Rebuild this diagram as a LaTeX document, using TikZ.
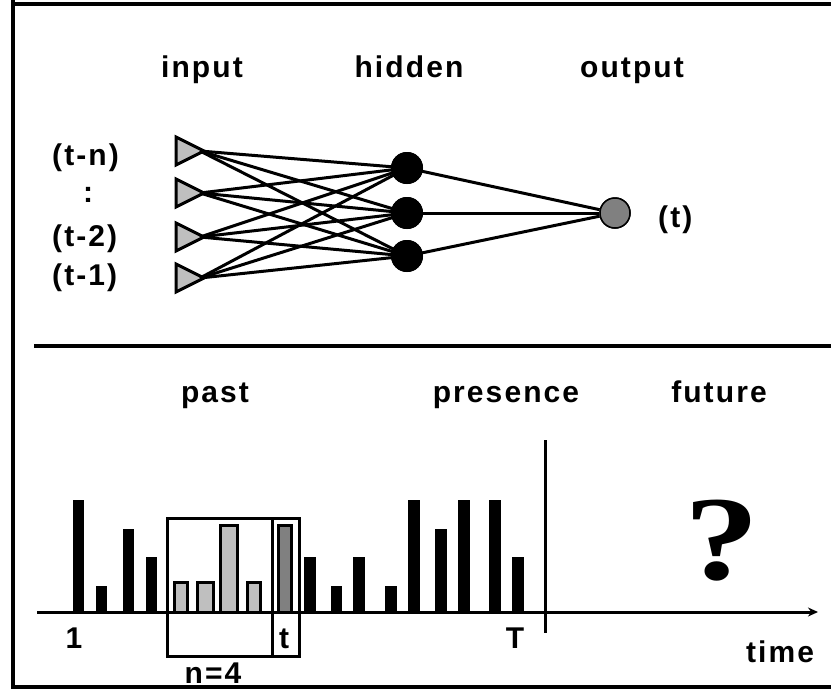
\documentclass[tikz,border=0pt]{standalone}
\usepackage{fontspec}
\setmainfont{Liberation Sans}
\newfontfamily\lblfont[LetterSpace=7]{Liberation Sans Bold}
\newfontfamily\qfont{Liberation Serif Bold}
\usetikzlibrary{arrows.meta}
\begin{document}
\begin{tikzpicture}[x=1pt,y=-1pt,
  lbl/.style={font=\lblfont\fontsize{30}{32}\selectfont, inner sep=0pt, anchor=base},
  inp/.style={draw=black, fill=gray!50, line width=3pt, line join=miter},
  hid/.style={circle, fill=black, minimum size=32pt, inner sep=0pt},
  outn/.style={circle, fill=gray, draw=black, line width=1.5pt, minimum size=30pt, inner sep=0pt},
  conn/.style={line width=3pt},
  blk/.style={fill=black},
  gbar/.style={draw=black, line width=3pt, fill=gray!50},
  dbar/.style={draw=black, line width=3pt, fill=gray},
  frame/.style={line width=3.4pt}]
\useasboundingbox (0,0) rectangle (831,689);
% frame
\draw[frame] (13,0) -- (13,687) -- (831,687);
\draw[frame] (13,4) -- (831,4);
\draw[frame] (34,346) -- (831,346);
% headings
\node[lbl] (hin) at (202,77) {input};
\node[lbl] (hhid) at (409,77) {hidden};
\node[lbl] (hout) at (632,77) {output};
% input labels
\node[lbl, anchor=base west] (ln) at (52,165) {(t-n)};
\node[lbl] (ld) at (88,202) {:};
\node[lbl, anchor=base west] (l2) at (52,246) {(t-2)};
\node[lbl, anchor=base west] (l1) at (52,285) {(t-1)};
\node[lbl, anchor=base west] (lt) at (658,227) {(t)};
% input triangles
\foreach \i/\y in {1/151,2/193,3/237,4/278}{
  \draw[inp] (176,\y-14) -- (176,\y+14) -- (204,\y) -- cycle;
  \coordinate (i\i) at (200,\y);
}
% hidden and output
\node[hid] (h1) at (407,168) {};
\node[hid] (h2) at (407,213) {};
\node[hid] (h3) at (407,256) {};
\node[outn] (o) at (615,213) {};
\foreach \i in {1,...,4}{
  \foreach \j in {1,2,3}{
    \draw[conn] (i\i) -- (h\j.center);
  }
}
\foreach \j in {1,2,3}{
  \draw[conn] (h\j.center) -- (o);
}
\node[hid] at (407,168) {};
\node[hid] at (407,213) {};
\node[hid] at (407,256) {};
\node[outn] at (615,213) {};
% lower part headings
\node[lbl] (past) at (215,402) {past};
\node[lbl] (pres) at (506,402) {presence};
\node[lbl] (fut) at (719,402) {future};
% window boxes
\draw[line width=3pt] (167,518) rectangle (299,656);
\draw[line width=3pt] (272,518) -- (272,656);
% bars
\foreach \a/\b/\t in {73/84/500, 96/107/586, 123/134/529, 146/157/557,
  304/316/557, 331/342/586, 353/365/557, 385/397/586, 408/420/500,
  435/447/529, 458/470/500, 489/501/500, 512/524/557}{
  \fill[blk] (\a,\t) rectangle (\b,612);
}
\foreach \a/\b/\t in {174/187/582, 197/213/582, 220/237/525, 247/260/582}{
  \draw[gbar] (\a,\t) rectangle (\b,612);
}
\draw[dbar] (278,525) rectangle (291,612);
% axis
\coordinate (ax0) at (37,612);
\coordinate (ax1) at (818,612);
\draw[line width=3pt, -{Stealth[length=10pt,width=9pt]}] (ax0) -- (ax1);
\coordinate (v0) at (545,440);
\coordinate (v1) at (545,633);
\draw[line width=3pt] (v0) -- (v1);
% axis labels
\node[lbl] (one) at (74,648) {1};
\node[lbl] (tt) at (284,648) {t};
\node[lbl] (TT) at (515,648) {T};
\node[lbl] (n4) at (213,683) {n=4};
\node[lbl] (time) at (780,662) {time};
\node[font=\qfont\fontsize{120}{120}\selectfont, inner sep=0pt, anchor=base] (q) at (722,579) {\scalebox{1.25}[1]{?}};
\end{tikzpicture}
\end{document}
